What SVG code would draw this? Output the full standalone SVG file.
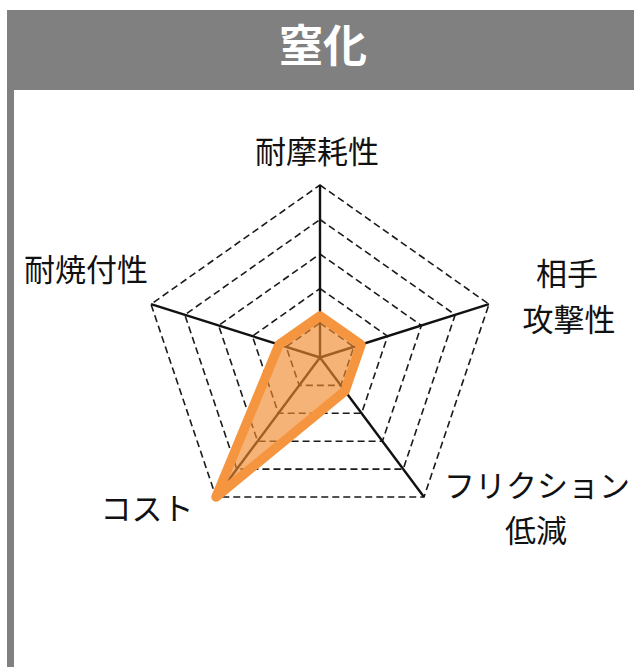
<svg xmlns="http://www.w3.org/2000/svg" width="634" height="667" viewBox="0 0 634 667">
<style>
.lbl{font-family:"Noto Sans CJK JP","Noto Sans CJK SC",sans-serif;font-size:31px;fill:#111;text-anchor:middle}
.title{font-family:"Noto Sans CJK JP","Noto Sans CJK SC",sans-serif;font-size:44px;font-weight:bold;fill:#fff;text-anchor:middle}
.ring{fill:none;stroke:#1a1a1a;stroke-width:1.6;stroke-dasharray:7 4}
.axis{stroke:#111;stroke-width:2.4;fill:none}
</style>
<rect width="634" height="667" fill="#fff"/>
<g id="frame">
<rect x="7" y="10" width="627" height="80" fill="#808080"/>
<rect x="7" y="90" width="7" height="577" fill="#808080"/>
<text class="title" x="323" y="62">窒化</text>
</g>
<g id="grid">
<polygon class="ring" points="320,185 489,304.2 424,497 216,497 151,304.2"/>
<polygon class="ring" points="320,219.5 455.2,314.8 403.2,469.1 236.8,469.1 184.8,314.8"/>
<polygon class="ring" points="320,254 421.4,325.5 382.4,441.2 257.6,441.2 218.6,325.5"/>
<polygon class="ring" points="320,288.5 387.6,336.2 361.6,413.3 278.4,413.3 252.4,336.2"/>
<polygon class="ring" points="320,323 353.8,346.8 340.8,385.4 299.2,385.4 286.2,346.8"/>
</g>
<g id="connectors">
<line class="axis" x1="320" y1="357.5" x2="320" y2="185"/>
<line class="axis" x1="320" y1="357.5" x2="489" y2="304.2"/>
<line class="axis" x1="320" y1="357.5" x2="424" y2="497"/>
<line class="axis" x1="320" y1="357.5" x2="216" y2="497"/>
<line class="axis" x1="320" y1="357.5" x2="151" y2="304.2"/>
</g>
<g id="data">
<polygon points="320,316 361,344.7 345,391 216,497 279,344.7" fill="#F08A2E" fill-opacity="0.65" stroke="#F5953F" stroke-width="9.5" stroke-linejoin="round"/>
</g>
<g id="node-wear"><text class="lbl" x="317" y="163">耐摩耗性</text></g>
<g id="node-attack"><text class="lbl" x="567" y="285">相手</text><text class="lbl" x="569" y="331">攻撃性</text></g>
<g id="node-friction"><text class="lbl" x="537" y="497">フリクション</text><text class="lbl" x="536" y="542">低減</text></g>
<g id="node-cost"><text class="lbl" x="147" y="520">コスト</text></g>
<g id="node-seizure"><text class="lbl" x="86" y="281">耐焼付性</text></g>
</svg>
